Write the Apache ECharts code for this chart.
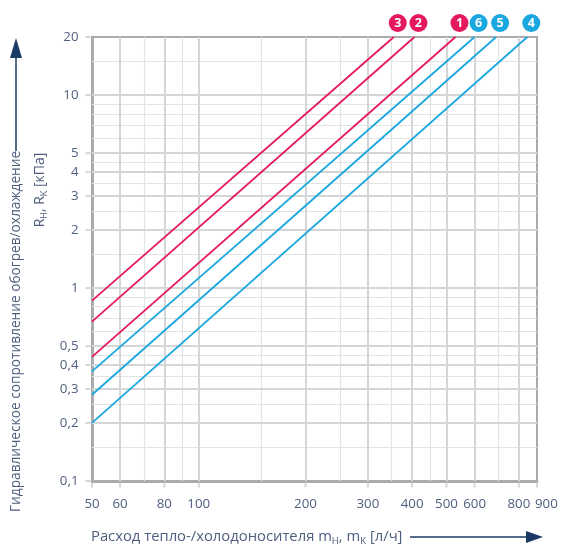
<!DOCTYPE html>
<html>
<head>
<meta charset="utf-8">
<script src="https://cdn.jsdelivr.net/npm/echarts@6/dist/echarts.min.js"></script>
<style>
html,body{margin:0;padding:0;background:#fff;}
#chart{width:565px;height:546px;}
</style>
</head>
<body>
<div id="chart"></div>
<script>
// ---- data ----
const flowMin = 50, flowMax = 900;
const rMin = 0.1, rMax = 20;
const xTickValues = [50, 60, 80, 100, 200, 300, 400, 500, 600, 800, 900];
const xGridMajor = [60, 80, 100, 200, 300, 400, 500, 600, 800];
const xGridMinor = [70, 90, 150, 250, 350, 450, 700];
const yTickValues = [0.1, 0.2, 0.3, 0.4, 0.5, 1, 2, 3, 4, 5, 10, 20];
const yGridMajor = [0.2, 0.3, 0.4, 0.5, 1, 2, 3, 4, 5, 10];
const yGridMinor = [0.15, 0.25, 0.35, 0.45, 0.6, 0.7, 0.8, 0.9, 1.5, 2.5, 3.5, 4.5, 6, 7, 8, 9, 15];
const lineIds = ['1', '2', '3', '4', '5', '6'];
const lineGroup = ['heat', 'heat', 'heat', 'cool', 'cool', 'cool'];
const rAtFlowMin = [0.44, 0.67, 0.86, 0.20, 0.28, 0.37];   // kPa at 50 l/h
const flowAtRMax = [530, 406, 355, 845, 690, 600];        // l/h at 20 kPa

// ---- styles ----
const RED = '#e5195d', BLUE = '#1ba7e0';
const TXT = '#4f5e7e', NAVY = '#1b3a66';
const AXIS = '#a9abae', GMAJ = '#d5d6d8', GMIN = '#e2e3e4';
const FONT = '"Open Sans", "Noto Sans", sans-serif';

const chart = echarts.init(document.getElementById('chart'), null, {renderer: 'canvas'});

function gridSeries(vals, key, color, width) {
  return {
    type: 'line', data: [], z: 1, silent: true,
    markLine: {
      z: 1, silent: true, symbol: ['none', 'none'], animation: false,
      label: {show: false},
      emphasis: {disabled: true},
      lineStyle: {type: 'solid', color: color, width: width, opacity: 1},
      data: vals.map(v => ({[key]: v}))
    }
  };
}

const series = [
  gridSeries(xGridMinor, 'xAxis', GMIN, 1.2),
  gridSeries(yGridMinor, 'yAxis', GMIN, 1.2),
  gridSeries(xGridMajor, 'xAxis', GMAJ, 2),
  gridSeries(yGridMajor, 'yAxis', GMAJ, 2),
  // x ticks + labels
  {
    type: 'scatter', z: 2, clip: false, silent: true,
    symbol: 'rect', symbolSize: [2, 5], symbolOffset: [0, 4],
    itemStyle: {color: GMAJ, opacity: 1},
    label: {
      show: true, position: 'bottom', distance: 10,
      color: TXT, fontSize: 13.3, fontFamily: FONT,
      formatter: p => String(p.value[0])
    },
    data: xTickValues.map((v, i) => i === xTickValues.length - 1
      ? {value: [v, rMin], label: {align: 'left', offset: [-2, 0]}}
      : [v, rMin])
  },
  // y ticks + labels
  {
    type: 'scatter', z: 2, clip: false, silent: true,
    symbol: 'rect', symbolSize: [5, 2], symbolOffset: [-4, 0],
    itemStyle: {color: GMAJ, opacity: 1},
    label: {
      show: true, position: 'left', distance: 7,
      color: TXT, fontSize: 13.3, fontFamily: FONT,
      formatter: p => String(p.value[1]).replace('.', ',')
    },
    data: yTickValues.map(v => [flowMin, v])
  }
];

lineIds.forEach((id, i) => {
  const c = lineGroup[i] === 'heat' ? RED : BLUE;
  series.push({
    type: 'line', name: id, z: 8, silent: true,
    symbol: 'none', lineStyle: {color: c, width: 1.8},
    data: [[flowMin, rAtFlowMin[i]], [flowAtRMax[i], rMax]]
  });
});

// circled numbers at top
series.push({
  type: 'scatter', z: 9, clip: false, silent: true,
  symbol: 'circle', symbolSize: 18, symbolOffset: [4, -14],
  label: {
    show: true, position: 'inside', color: '#fff',
    fontSize: 12.5, fontWeight: 'bold', fontFamily: FONT,
    formatter: p => p.name
  },
  data: lineIds.map((id, i) => ({
    name: id, value: [flowAtRMax[i], rMax],
    itemStyle: {color: lineGroup[i] === 'heat' ? RED : BLUE, opacity: 1}
  }))
});

chart.setOption({
  animation: false,
  backgroundColor: '#fff',
  grid: {left: 92, right: 28, top: 37, bottom: 65, show: true, borderColor: AXIS, borderWidth: 2, containLabel: false},
  xAxis: {
    type: 'log', logBase: 10, min: flowMin, max: flowMax,
    axisLine: {show: true, onZero: false, lineStyle: {color: AXIS, width: 3}},
    axisTick: {show: false}, axisLabel: {show: false}, splitLine: {show: false}, minorSplitLine: {show: false}
  },
  yAxis: {
    type: 'log', logBase: 10, min: rMin, max: rMax,
    axisLine: {show: true, onZero: false, lineStyle: {color: AXIS, width: 3}},
    axisTick: {show: false}, axisLabel: {show: false}, splitLine: {show: false}, minorSplitLine: {show: false}
  },
  series: series,
  graphic: [
    {
      type: 'text', x: 91, y: 537, silent: true,
      style: {
        text: 'Расход тепло-/холодоносителя m{sub|H}, m{sub|K} [л/ч]',
        fill: TXT, fontSize: 14.8, fontFamily: FONT, textAlign: 'left', textVerticalAlign: 'middle',
        rich: {sub: {fontSize: 9.5, fill: TXT, fontFamily: FONT, padding: [8, 0, 0, 0]}}
      }
    },
    {type: 'line', silent: true, shape: {x1: 410, y1: 537, x2: 528, y2: 537}, style: {stroke: NAVY, lineWidth: 1.5}},
    {type: 'polygon', silent: true, shape: {points: [[526, 531], [526, 543], [543, 537]]}, style: {fill: NAVY}},
    {
      type: 'text', x: 16, y: 512, rotation: Math.PI / 2, silent: true,
      style: {
        text: 'Гидравлическое сопротивление обогрев/охлаждение',
        fill: TXT, fontSize: 13.7, fontFamily: FONT, textAlign: 'left', textVerticalAlign: 'middle'
      }
    },
    {
      type: 'text', x: 40, y: 190, rotation: Math.PI / 2, silent: true,
      style: {
        text: 'R{sub|H}, R{sub|K} [кПа]',
        fill: TXT, fontSize: 14, fontFamily: FONT, textAlign: 'center', textVerticalAlign: 'middle',
        rich: {sub: {fontSize: 9, fill: TXT, fontFamily: FONT, padding: [8, 0, 0, 0]}}
      }
    },
    {type: 'line', silent: true, shape: {x1: 16, y1: 151, x2: 16, y2: 55}, style: {stroke: NAVY, lineWidth: 1.5}},
    {type: 'polygon', silent: true, shape: {points: [[10, 58], [22, 58], [16, 38]]}, style: {fill: NAVY}}
  ]
});
</script>
</body>
</html>
